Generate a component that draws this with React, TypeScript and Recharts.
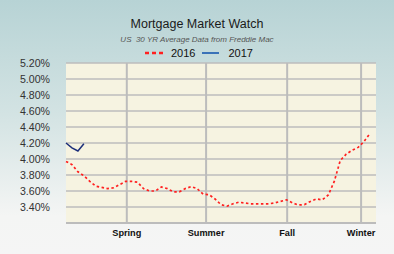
import React from 'react'
import { LineChart, Line, XAxis, YAxis, CartesianGrid, ReferenceLine } from 'recharts'

// weekly 30 yr averages
const weeks2016 = Array.from({ length: 52 }, (_, i) => i)
const rates2016 = [
  3.97, 3.93, 3.84, 3.79, 3.72, 3.66, 3.645, 3.63, 3.64, 3.68,
  3.72, 3.72, 3.71, 3.63, 3.6, 3.6, 3.65, 3.63, 3.59, 3.59,
  3.63, 3.655, 3.63, 3.56, 3.555, 3.5, 3.43, 3.41, 3.44, 3.46,
  3.45, 3.44, 3.44, 3.44, 3.44, 3.45, 3.47, 3.49, 3.45, 3.425,
  3.43, 3.47, 3.5, 3.49, 3.55, 3.72, 3.98, 4.06, 4.11, 4.145,
  4.22, 4.32,
]
const rates2017 = [4.2, 4.14, 4.1, 4.19]

const seasonTicks = [10.2, 23.5, 37.1, 49.5]
const seasonLabels = ['Spring', 'Summer', 'Fall', 'Winter']
const rateTicks = [3.2, 3.4, 3.6, 3.8, 4.0, 4.2, 4.4, 4.6, 4.8, 5.0, 5.2]

const data = weeks2016.map((w, i) => ({
  week: w,
  y2016: rates2016[i],
  y2017: i < rates2017.length ? rates2017[i] : null,
}))

const font = '"Liberation Sans", Arial, Helvetica, sans-serif'

export default function App() {
  return (
    <div
      style={{
        position: 'absolute',
        top: 0,
        left: 0,
        width: 394,
        height: 254,
        background: 'linear-gradient(to bottom, #b7d3d5 0%, #d3e3e3 45%, #f4f5f4 85%, #f5f5f5 100%)',
        fontFamily: font,
      }}
    >
      {/* title block */}
      <div style={{ position: 'absolute', top: 17, width: 394, textAlign: 'center', fontSize: 12.5, color: '#1a1a1a' }}>
        Mortgage Market Watch
      </div>
      <div style={{ position: 'absolute', top: 35, width: 394, textAlign: 'center', fontSize: 8, fontStyle: 'italic', color: '#555' }}>
        US&nbsp; 30 YR Average Data from Freddie Mac
      </div>

      {/* legend */}
      <div style={{ position: 'absolute', top: 46, left: 145, height: 14, display: 'flex', alignItems: 'center', fontSize: 11, color: '#111' }}>
        <svg width={18} height={4}>
          <line x1={0} y1={2} x2={18} y2={2} stroke="#ff2020" strokeWidth={2.5} strokeDasharray="4 3" />
        </svg>
        <span style={{ marginLeft: 8 }}>2016</span>
        <svg width={17} height={4} style={{ marginLeft: 7 }}>
          <line x1={0} y1={2} x2={17} y2={2} stroke="#3a72b8" strokeWidth={2} />
        </svg>
        <span style={{ marginLeft: 9 }}>2017</span>
      </div>

      <LineChart
        width={394}
        height={254}
        data={data}
        margin={{ top: 63, right: 18, bottom: 0, left: 0 }}
        style={{ position: 'absolute', top: 0, left: 0 }}
      >
        <CartesianGrid fill="#f6f3e1" stroke="#bcbcbc" strokeWidth={1.6} vertical={false} />
        {seasonTicks.map((t) => (
          <ReferenceLine key={t} x={t} stroke="#bcbcbc" strokeWidth={2} />
        ))}
        <XAxis
          dataKey="week"
          type="number"
          domain={[0, 52]}
          ticks={seasonTicks}
          interval={0}
          tickFormatter={(v) => seasonLabels[seasonTicks.indexOf(v)]}
          height={31}
          tickLine={false}
          tickSize={6}
          tickMargin={0}
          axisLine={{ stroke: '#bcbcbc', strokeWidth: 2 }}
          tick={{ fill: '#111', fontSize: 9.2, fontWeight: 'bold', fontFamily: font }}
        />
        <YAxis
          domain={[3.2, 5.2]}
          ticks={rateTicks}
          interval={0}
          tickFormatter={(v) => (v === 3.2 ? '' : `${v.toFixed(2)}%`)}
          width={66}
          axisLine={false}
          tickLine={false}
          tickSize={6}
          tickMargin={10}
          tick={{ fill: '#333', fontSize: 10.6, fontFamily: font }}
        />
        <Line
          dataKey="y2016"
          stroke="#ff2020"
          strokeWidth={1.7}
          strokeDasharray="2.5 2.5"
          dot={false}
          type="linear"
          isAnimationActive={false}
        />
        <Line
          dataKey="y2017"
          stroke="#1c2f7a"
          strokeWidth={1.5}
          dot={false}
          type="linear"
          connectNulls={false}
          isAnimationActive={false}
        />
      </LineChart>
    </div>
  )
}
